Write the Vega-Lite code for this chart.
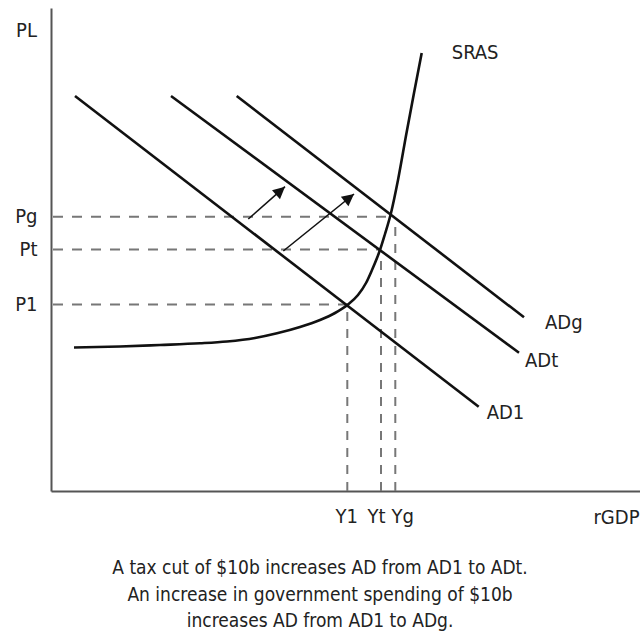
{
  "$schema": "https://vega.github.io/schema/vega-lite/v6.json",
  "width": 589,
  "height": 483,
  "autosize": {"type": "none"},
  "padding": {"left": 51, "top": 8, "right": 0, "bottom": 144},
  "background": "white",
  "config": {"view": {"stroke": null}, "font": "DejaVu Sans Condensed, Liberation Sans, sans-serif"},
  "title": {
    "text": ["A tax cut of $10b increases AD from AD1 to ADt.", "An increase in government spending of $10b", "increases AD from AD1 to ADg."],
    "orient": "bottom",
    "anchor": "middle",
    "dx": -25.5,
    "offset": 32,
    "font": "DejaVu Sans Condensed, Liberation Sans, sans-serif",
    "fontSize": 19,
    "fontWeight": "normal",
    "color": "#222",
    "lineHeight": 26.5
  },
  "datasets": {
    "curves": [
      {"curve": "AD1", "rgdp": 24, "pl": 395},
      {"curve": "AD1", "rgdp": 427.7, "pl": 84.3},
      {"curve": "ADt", "rgdp": 120, "pl": 395},
      {"curve": "ADt", "rgdp": 468, "pl": 138.3},
      {"curve": "ADg", "rgdp": 185.7, "pl": 395},
      {"curve": "ADg", "rgdp": 473, "pl": 173.7},
      {"curve": "SRAS", "rgdp": 23, "pl": 143.5},
      {"curve": "SRAS", "rgdp": 69, "pl": 144.5},
      {"curve": "SRAS", "rgdp": 109, "pl": 146},
      {"curve": "SRAS", "rgdp": 149, "pl": 147.7},
      {"curve": "SRAS", "rgdp": 176, "pl": 149.5},
      {"curve": "SRAS", "rgdp": 204, "pl": 153},
      {"curve": "SRAS", "rgdp": 226, "pl": 157.7},
      {"curve": "SRAS", "rgdp": 249, "pl": 164},
      {"curve": "SRAS", "rgdp": 269, "pl": 171},
      {"curve": "SRAS", "rgdp": 284, "pl": 178},
      {"curve": "SRAS", "rgdp": 297, "pl": 186.5},
      {"curve": "SRAS", "rgdp": 307, "pl": 196},
      {"curve": "SRAS", "rgdp": 315, "pl": 208},
      {"curve": "SRAS", "rgdp": 321, "pl": 221},
      {"curve": "SRAS", "rgdp": 326, "pl": 233},
      {"curve": "SRAS", "rgdp": 329, "pl": 241},
      {"curve": "SRAS", "rgdp": 334, "pl": 257},
      {"curve": "SRAS", "rgdp": 340, "pl": 278},
      {"curve": "SRAS", "rgdp": 347, "pl": 311},
      {"curve": "SRAS", "rgdp": 355.5, "pl": 358},
      {"curve": "SRAS", "rgdp": 363, "pl": 398},
      {"curve": "SRAS", "rgdp": 370.7, "pl": 438}
    ],
    "hguides": [
      {"guide": "Pg", "rgdp": 2, "pl": 274.3},
      {"guide": "Pg", "rgdp": 339, "pl": 274.3},
      {"guide": "Pt", "rgdp": 2, "pl": 241.5},
      {"guide": "Pt", "rgdp": 329, "pl": 241.5},
      {"guide": "P1", "rgdp": 2, "pl": 186.5},
      {"guide": "P1", "rgdp": 297, "pl": 186.5}
    ],
    "vguides": [
      {"guide": "Y1", "rgdp": 296.3, "pl": 0},
      {"guide": "Y1", "rgdp": 296.3, "pl": 184},
      {"guide": "Yt", "rgdp": 330, "pl": 0},
      {"guide": "Yt", "rgdp": 330, "pl": 238},
      {"guide": "Yg", "rgdp": 344.3, "pl": 0},
      {"guide": "Yg", "rgdp": 344.3, "pl": 270}
    ],
    "arrows": [
      {"arrow": "tax", "end": "tail", "rgdp": 197.3, "pl": 272},
      {"arrow": "tax", "end": "tip", "rgdp": 234, "pl": 304.3},
      {"arrow": "spending", "end": "tail", "rgdp": 232.3, "pl": 240},
      {"arrow": "spending", "end": "tip", "rgdp": 303, "pl": 297}
    ],
    "labels": [
      {"label": "SRAS", "rgdp": 400.7, "pl": 438},
      {"label": "ADg", "rgdp": 494, "pl": 168},
      {"label": "ADt", "rgdp": 474, "pl": 130},
      {"label": "AD1", "rgdp": 435.7, "pl": 78}
    ]
  },
  "encoding": {
    "x": {
      "field": "rgdp",
      "type": "quantitative",
      "scale": {"domain": [0, 589], "nice": false, "zero": false},
      "axis": {
        "values": [296.3, 330, 344.3],
        "labelExpr": "datum.value < 310 ? 'Y1' : datum.value < 337 ? 'Yt' : 'Yg'",
        "title": "rGDP",
        "titleX": 588,
        "titleY": 26,
        "titleAlign": "right",
        "titleBaseline": "middle",
        "titleFont": "DejaVu Sans Condensed, Liberation Sans, sans-serif",
        "titleFontSize": 20,
        "titleFontWeight": "normal",
        "titleColor": "#222",
        "domainColor": "#555",
        "domainWidth": 2,
        "ticks": false,
        "tickSize": 0,
        "grid": false,
        "labelFont": "DejaVu Sans Condensed, Liberation Sans, sans-serif",
        "labelFontSize": 20,
        "labelColor": "#222",
        "labelPadding": 25,
        "labelBaseline": "middle",
        "labelFlush": false,
        "labelOverlap": false,
        "labelOffset": {"condition": [{"test": "datum.value > 337", "value": 7}, {"test": "datum.value > 310", "value": -5}], "value": -1}
      }
    },
    "y": {
      "field": "pl",
      "type": "quantitative",
      "scale": {"domain": [0, 483], "nice": false, "zero": false},
      "axis": {
        "values": [186.5, 241.5, 274.3],
        "labelExpr": "datum.value < 200 ? 'P1' : datum.value < 260 ? 'Pt' : 'Pg'",
        "title": "PL",
        "titleX": -25,
        "titleY": 22,
        "titleAngle": 0,
        "titleAlign": "center",
        "titleBaseline": "middle",
        "titleFont": "DejaVu Sans Condensed, Liberation Sans, sans-serif",
        "titleFontSize": 20,
        "titleFontWeight": "normal",
        "titleColor": "#222",
        "domainColor": "#555",
        "domainWidth": 2,
        "ticks": false,
        "tickSize": 0,
        "grid": false,
        "labelFont": "DejaVu Sans Condensed, Liberation Sans, sans-serif",
        "labelFontSize": 20,
        "labelColor": "#222",
        "labelPadding": 14,
        "labelAlign": "right",
        "labelBaseline": "middle",
        "labelFlush": false,
        "labelOverlap": false
      }
    }
  },
  "layer": [
    {
      "data": {"name": "hguides"},
      "mark": {"type": "line", "color": "#777", "strokeWidth": 2, "strokeDash": [10, 9]},
      "encoding": {"detail": {"field": "guide"}}
    },
    {
      "data": {"name": "vguides"},
      "mark": {"type": "line", "color": "#777", "strokeWidth": 2, "strokeDash": [9, 8]},
      "encoding": {"detail": {"field": "guide"}}
    },
    {
      "data": {"name": "curves"},
      "mark": {"type": "line", "color": "#111", "strokeWidth": 2.6, "interpolate": "monotone"},
      "encoding": {"detail": {"field": "curve"}}
    },
    {
      "data": {"name": "arrows"},
      "mark": {"type": "line", "color": "#111", "strokeWidth": 1.6},
      "encoding": {"detail": {"field": "arrow"}}
    },
    {
      "data": {"name": "arrows"},
      "transform": [{"filter": "datum.arrow == 'tax' && datum.end == 'tip'"}],
      "mark": {"type": "point", "filled": true, "color": "#111", "opacity": 1, "shape": "M0,0L0.5,1L-0.5,1Z", "size": 576, "angle": 48.6}
    },
    {
      "data": {"name": "arrows"},
      "transform": [{"filter": "datum.arrow == 'spending' && datum.end == 'tip'"}],
      "mark": {"type": "point", "filled": true, "color": "#111", "opacity": 1, "shape": "M0,0L0.5,1L-0.5,1Z", "size": 576, "angle": 51.1}
    },
    {
      "data": {"name": "labels"},
      "mark": {"type": "text", "align": "left", "baseline": "middle", "font": "DejaVu Sans Condensed, Liberation Sans, sans-serif", "fontSize": 20, "color": "#222"},
      "encoding": {"text": {"field": "label"}}
    }
  ]
}
